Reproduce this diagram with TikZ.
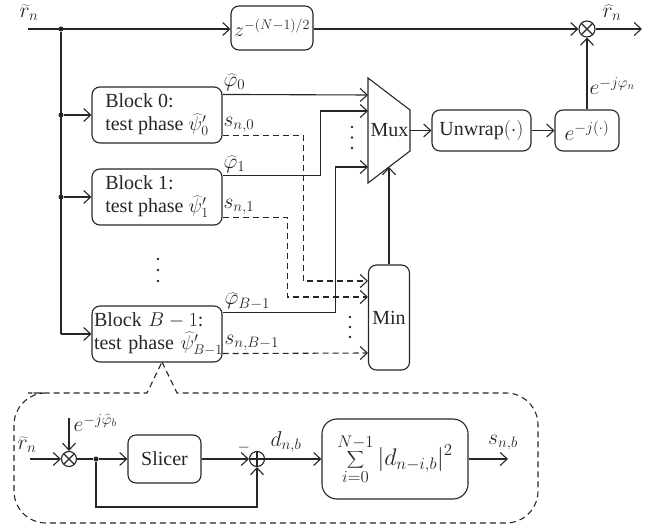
\RequirePackage{fix-cm}
\documentclass[tikz,border=0pt]{standalone}
\usepackage{fontspec}
\setmainfont{Liberation Serif}
\usetikzlibrary{arrows.meta,calc}
\begin{document}
\begin{tikzpicture}[x=1pt,y=-1pt,
  font=\fontsize{20}{23}\selectfont,
  color=black!85,
  line width=1.1pt,
  >={Straight Barb[length=7pt,width=13pt]},
  blk/.style={draw,rounded corners=8pt,align=left,inner sep=2pt},
  lbl/.style={inner sep=1pt,font=\fontsize{21.5}{25}\selectfont},
  mulc/.style={circle,draw,minimum size=16pt,inner sep=0pt,path picture={\draw (path picture bounding box.north west)--(path picture bounding box.south east) (path picture bounding box.north east)--(path picture bounding box.south west);}},
  addc/.style={circle,draw,minimum size=15pt,inner sep=0pt,path picture={\draw (path picture bounding box.north)--(path picture bounding box.south) (path picture bounding box.east)--(path picture bounding box.west);}},
  jdot/.style={circle,fill,inner sep=0pt,minimum size=5pt},
  dsh/.style={dash pattern=on 6pt off 4pt},
  pt/.style={fill,radius=1.4pt}]
\useasboundingbox (0,0) rectangle (656,529);

% ---------- top path ----------
\coordinate (in) at (28,29);
\node[lbl] (rinl) at (29,13) {$\widetilde{r}_n$};
\node[jdot] (j1) at (61,29) {};
\node[blk, minimum width=82pt, minimum height=44pt, inner sep=1pt] (delay) at (272,28) {$z^{-(N-1)/2}$};
\node[mulc] (mult) at (587,29) {};
\coordinate (out) at (642,29);
\node[lbl] (rhat) at (612,13) {$\widehat{r}_n$};
\draw[->] (in) -- (delay.west |- in);
\draw[->] (delay.east |- mult) -- (mult);
\draw[->] (mult) -- (out);

% ---------- blocks ----------
\node[blk, minimum width=130pt, minimum height=56pt] (B0) at (157,115) {Block 0:\\test phase $\widehat{\psi}'_0$};
\node[blk, minimum width=130pt, minimum height=56pt] (B1) at (157,197) {Block 1:\\test phase $\widehat{\psi}'_1$};
\node[blk, minimum width=130pt, minimum height=56pt, text width=126pt, inner sep=2pt] (BB) at (157,334) {\mbox{Block $B-1$:}\\\mbox{test phase $\widehat{\psi}'_{B-1}$}};
\node[jdot] (j0) at (61,115) {};
\node[jdot] (jb1) at (61,197) {};
\coordinate (cB) at (61,334);
\draw (j1) -- (cB);
\draw[->] (j0) -- (B0);
\draw[->] (jb1) -- (B1);
\draw[->] (cB) -- (BB);
\fill[pt] (158,259) circle; \fill[pt] (158,270) circle; \fill[pt] (158,281) circle;

% ---------- mux ----------
\coordinate (mxA) at (368,78);
\coordinate (mxB) at (410,110);
\coordinate (mxC) at (410,151);
\coordinate (mxD) at (368,183);
\draw (mxA) -- (mxB) -- (mxC) -- (mxD) -- cycle;
\node[inner sep=0pt] (mux) at (389.5,130.5) {Mux};
\coordinate (mxO) at (410,130.5);
\coordinate (m0) at (368,95);
\coordinate (m1) at (368,111);
\coordinate (m2) at (368,167);
\coordinate (mb) at (389,167);
\fill[pt] (352,127) circle; \fill[pt] (352,137.5) circle; \fill[pt] (352,148) circle;

\node[blk, minimum width=99pt, minimum height=41pt, inner sep=1pt] (unw) at (481.5,130.5) {Unwrap$(\cdot)$};
\node[blk, minimum width=64pt, minimum height=41pt, font=\fontsize{21.5}{25}\selectfont] (ebox) at (587,130.5) {$e^{-j(\cdot)}$};
\draw[->] (mxO) -- (unw);
\draw[->] (unw) -- (ebox);
\draw[->] (ebox) -- (mult);
\node[lbl, anchor=west] (elab) at (588,86) {$e^{-j\varphi_n}$};

% ---------- min ----------
\node[blk, minimum width=41pt, minimum height=105pt, inner sep=0pt] (min) at (389,317.5) {Min};
\coordinate (n0) at (368,281);
\coordinate (n1) at (368,297);
\coordinate (n2) at (368,353);
\draw[->] (min) -- (mb);
\fill[pt] (350,317) circle; \fill[pt] (350,327) circle; \fill[pt] (350,337) circle;

% phase outputs
\draw[->] ($(B0.north east)+(0,8)$) -- (m0);
\draw[->] ($(B1.north east)+(0,7)$) -- ++(98,0) |- (m1);
\draw[->] ($(BB.north east)+(0,7)$) -- ++(113,0) |- (m2);
% metric outputs
\draw[->,dsh] ($(B0.south east)+(0,-8)$) -- ++(81,0) |- (n0);
\draw[->,dsh] ($(B1.south east)+(0,-8)$) -- ++(65,0) |- (n1);
\draw[->,dsh] ($(BB.south east)+(0,-9)$) -- (n2);

\node[lbl, anchor=south west] (l0) at (222,92) {$\widehat{\varphi}_0$};
\node[lbl, anchor=south west] (l1) at (222,134) {$s_{n,0}$};
\node[lbl, anchor=south west] (l2) at (222,174) {$\widehat{\varphi}_1$};
\node[lbl, anchor=south west] (l3) at (222,216) {$s_{n,1}$};
\node[lbl, anchor=south west] (l4) at (223,311) {$\widehat{\varphi}_{B-1}$};
\node[lbl, anchor=south west] (l5) at (223,352) {$s_{n,B-1}$};

% ---------- detail callout ----------
\draw[dsh] (162,362) -- (177,393) -- (500,393) [rounded corners=32pt] -- (538,393) -- (538,523) -- (14,523) -- (14,393) -- (60,393) [sharp corners] -- (147,393) -- cycle;

\node[lbl] (rin2) at (27,445) {$\widetilde{r}_n$};
\coordinate (in2) at (30,459);
\node[mulc, minimum size=15pt] (mx2) at (69,459) {};
\coordinate (ein) at (69,418);
\node[lbl, anchor=west] (elb) at (72,423) {$e^{-j\widehat{\varphi}_b}$};
\node[jdot] (j2) at (96,459) {};
\node[blk, minimum width=73pt, minimum height=48pt] (slicer) at (164.5,459) {Slicer};
\node[addc] (add) at (257,459) {};
\node[inner sep=0pt, font=\fontsize{15.5}{18}\selectfont] (minus) at (244,448) {$-$};
\coordinate (fb1) at (96,507);
\coordinate (fb2) at (257,507);
\draw[->] (in2) -- (mx2);
\draw[->] (ein) -- (mx2);
\draw (mx2) -- (j2);
\draw[->] (j2) -- (slicer);
\draw[->] (slicer) -- (add);
\draw[->] (j2) -- (fb1) -- (fb2) -- (add);
\node[lbl] (dlab) at (286,442) {$d_{n,b}$};
\node[blk, rounded corners=15pt, minimum width=146pt, minimum height=80pt, inner sep=0pt] (sum) at (395,459) {\scalebox{1.2}{$\displaystyle\sum_{i=0}^{N-1}|d_{n-i,b}|^2$}};
\coordinate (sout) at (508,459);
\draw[->] (add) -- (sum);
\draw[->] (sum) -- (sout);
\node[lbl] (slab) at (503,443) {$s_{n,b}$};
\end{tikzpicture}
\end{document}
